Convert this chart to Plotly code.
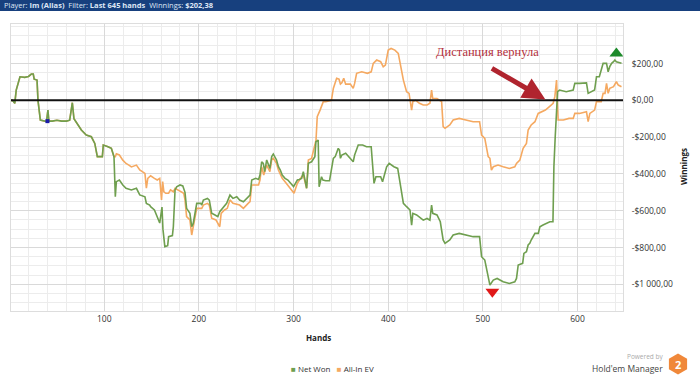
import plotly.graph_objects as go

# ---------------- data ----------------
shared_hands = [1, 3, 5.5, 7, 11, 16, 20, 23, 25, 26, 29, 30, 32.5, 37, 39, 40.5, 41.5, 45, 50, 55, 60,
                63.5, 66.3, 68, 70, 75.8, 81, 86.4, 90, 92.7, 98, 99, 104, 107.5, 110.3]
shared_values = [0, 0, -16, 56, 128, 125, 130, 143, 143, 115, 110, 0, -107, -115, -115, -53, -113, -113, -108, -113, -113,
                 -108, -13, -100, -115, -161, -189, -198, -234, -306, -306, -243, -252, -261, -306]

net_hands = [111.7, 112.8, 116, 119.6, 123, 128.7, 134, 137.5, 143, 144.5, 148, 149, 153, 158.6, 161, 162, 164, 167, 168,
             172, 173, 174.8, 176.5, 180, 183, 185.3, 187, 190.5, 192.4, 194, 196, 197.7, 202, 203, 204.7, 209, 211,
             213.5, 217, 220, 222, 225, 227, 229.3, 232.8, 236, 240, 243, 247, 250, 252, 254, 255.8, 260, 263, 264.5,
             266.3, 268, 269.5, 271.6, 275, 276.9, 278.6, 280, 282, 284, 286, 288, 291, 294, 298, 300, 302, 304, 306,
             308.5, 310.3, 312, 313.8, 315.6, 319, 322.5, 323.6, 326, 327, 329.5, 331, 334, 338, 342, 344, 347.2,
             348.5, 349.5, 351, 355, 358.5, 363, 364.5, 368.3, 373, 377, 382, 384.2, 385, 387, 392, 394, 398.3, 401,
             406, 410, 412.4, 416, 419.4, 423, 424.7, 426, 430, 437, 441, 444, 445.8, 447, 451.5, 455, 458, 460, 465,
             468.6, 475, 482, 489.7, 496.5, 498.6, 502, 503.9, 505.6, 507.4, 511, 515, 521.4, 528, 533.7, 535.5,
             537.3, 542, 543.3, 546, 547.8, 549.5, 551, 555, 558.5, 560.2, 563.5, 567, 570.7, 574, 575, 576.4, 577.8,
             578.9, 581, 588, 595.4, 597.1, 602, 609.4, 611.2, 614.7, 618, 620, 623, 625, 627, 630.6, 632.3, 634, 636,
             638, 639.4, 641, 646.4]
net_values = [-524, -442, -433, -460, -478, -487, -478, -514, -524, -560, -569, -578, -596, -667, -580, -700, -795, -790,
              -741, -735, -687, -487, -470, -460, -465, -500, -587, -614, -687, -669, -596, -560, -560, -569, -542, -533,
              -542, -614, -623, -632, -605, -587, -569, -560, -515, -533, -524, -542, -551, -533, -524, -515, -433, -424,
              -430, -406, -334, -343, -388, -324, -370, -306, -292, -306, -324, -361, -379, -406, -424, -433, -460, -469,
              -451, -433, -430, -424, -388, -433, -478, -342, -334, -306, -225, -216, -470, -415, -433, -437, -437, -315,
              -306, -261, -270, -315, -297, -288, -306, -334, -297, -243, -243, -252, -252, -397, -451, -415, -415, -442,
              -361, -343, -361, -370, -451, -560, -578, -596, -678, -614, -623, -651, -642, -651, -569, -614, -623, -660,
              -759, -777, -759, -732, -723, -732, -741, -741, -850, -868, -922, -959, -1004, -977, -968, -986, -995, -986,
              -968, -895, -886, -832, -823, -786, -777, -759, -723, -723, -687, -678, -669, -660, -660, -361, -198, -71,
              47, 56, 47, 56, 92, 92, 95, 38, 47, 56, 128, 128, 165, 201, 201, 155, 183, 201, 210, 219, 210, 202]

ev_hands = [111.7, 112.8, 116, 119.6, 123, 126, 128.7, 134, 137.5, 143, 144.5, 146, 149, 153, 156, 158.6, 159.5, 160.5,
            161.7, 163, 165, 168, 170, 173, 174.8, 178, 181.8, 184, 185.3, 187, 190.5, 192.4, 194, 196, 197.7, 203,
            204.7, 209, 211, 213.5, 218, 222, 223.5, 227, 230, 232.8, 236, 243, 247, 252, 254, 255.8, 263, 264.5,
            266.3, 268.5, 271.6, 275, 276.9, 278.6, 282, 284, 288, 291, 298, 300.5, 304, 306, 308.5, 310.3, 313.8,
            315.6, 319, 323.7, 325, 328, 331.4, 334, 337, 340, 342, 345.5, 348, 349.5, 351, 353, 355, 360, 363, 364.5,
            366.6, 372, 378, 382, 384.2, 387.8, 392, 394.7, 397, 400, 403, 407, 410.6, 412.4, 416, 419.4, 422, 424.7,
            426, 429, 433, 437, 441, 444, 445.8, 447, 451.5, 456.4, 458, 460, 465, 468.6, 475, 482, 489.7, 496.5,
            498.6, 502, 505.6, 507.4, 509, 511, 516, 521.4, 528, 533.7, 535.5, 539, 542.5, 546, 547.8, 551, 555,
            558.4, 562, 566, 570, 574.2, 576, 577.8, 578.9, 579.5, 585, 591, 595.4, 597.1, 602, 609.4, 611.2, 613,
            618, 620, 625, 627, 629, 630.6, 632.3, 634, 638, 641, 643, 646.4]
ev_values = [-306, -290, -297, -325, -343, -352, -362, -352, -378, -397, -477, -424, -410, -424, -433, -424, -470, -541,
             -442, -497, -505, -505, -487, -497, -478, -487, -497, -505, -541, -632, -650, -732, -687, -632, -587, -587,
             -569, -560, -569, -641, -650, -687, -614, -596, -587, -541, -560, -569, -587, -560, -551, -460, -460, -433,
             -361, -406, -352, -388, -324, -315, -343, -379, -424, -442, -487, -505, -451, -433, -415, -406, -478, -324,
             -316, -216, -89, -53, -7, -7, -3, 0, 65, 120, 115, 88, 95, 120, 88, 88, 65, 92, 147, 155, 147, 155, 201,
             219, 210, 183, 192, 273, 282, 273, 255, 201, 110, 47, 38, -53, -7, 0, -16, -25, -25, -16, 56, 10, 10, -7,
             -143, -152, -134, -107, -98, -107, -116, -116, -189, -207, -306, -315, -379, -361, -352, -361, -370, -361,
             -343, -325, -261, -234, -161, -134, -116, -71, -62, -53, -35, -16, 20, 110, -35, -107, -107, -98, -98, -71,
             -71, -62, -116, -71, -53, -7, -7, 38, 38, 92, 38, 65, 74, 101, 83, 74]

max_point = (641, 255)
min_point = (510, -1040)
start_point = (40, -113)

y_tickvals = [200, 0, -200, -400, -600, -800, -1000]
y_ticktext = ["$200,00", "$0,00", "-$200,00", "-$400,00", "-$600,00", "-$800,00", "-$1 000,00"]
x_tickvals = [100, 200, 300, 400, 500, 600]

GREEN = "#6f9f4f"
ORANGE = "#f5a961"

# ---------------- figure ----------------
W, H = 700, 378
L, R, T, B = 11, 623, 24, 311


def px(x):
    return (x - L) / (R - L)


def py(y):
    return (B - y) / (B - T)


fig = go.Figure()
fig.add_trace(go.Scatter(x=shared_hands + ev_hands, y=shared_values + ev_values, mode="lines",
                         line=dict(color=ORANGE, width=1.6), name="All-In EV", showlegend=False))
fig.add_trace(go.Scatter(x=shared_hands + net_hands, y=shared_values + net_values, mode="lines",
                         line=dict(color=GREEN, width=1.6), name="Net Won", showlegend=False))
fig.add_trace(go.Scatter(x=[max_point[0]], y=[max_point[1]], mode="markers",
                         marker=dict(symbol="triangle-up", size=12, color="#1c8a2a"), showlegend=False))
fig.add_trace(go.Scatter(x=[min_point[0]], y=[min_point[1]], mode="markers",
                         marker=dict(symbol="triangle-down", size=12, color="#e01818"), showlegend=False))
fig.add_trace(go.Scatter(x=[start_point[0]], y=[start_point[1]], mode="markers",
                         marker=dict(symbol="square", size=4, color="#1a1aa8"), showlegend=False))

# zero line
fig.add_hline(y=0, line=dict(color="#111111", width=2))

# header bar
fig.add_shape(type="rect", xref="paper", yref="paper", x0=px(0), x1=px(W), y0=py(0), y1=py(11),
              fillcolor="#17407e", line=dict(width=0), layer="above")

# HM2 hexagon logo
cx, cy, r = 678, 364, 10.5
hexpts = [(cx, cy - r), (cx - 0.866 * r, cy - r / 2), (cx - 0.866 * r, cy + r / 2), (cx, cy + r),
          (cx + 0.866 * r, cy + r / 2), (cx + 0.866 * r, cy - r / 2)]
path = "M " + " L ".join(f"{px(a):.5f},{py(b):.5f}" for a, b in hexpts) + " Z"
fig.add_shape(type="path", xref="paper", yref="paper", path=path, fillcolor="#f0883a", line=dict(width=0))

ann = [
    dict(x=px(3), y=py(5.5), xanchor="left",
         text="Player: <b>Im (Alias)</b>  Filter: <b>Last 645 hands</b>  Winnings: <b>$202,38</b>",
         font=dict(size=7.5, color="#dfe7f5")),
    dict(x=px(318), y=py(337), text="<b>Hands</b>", font=dict(size=8, color="#222")),
    dict(x=px(683), y=py(167), text="<b>Winnings</b>", textangle=-90, font=dict(size=8, color="#222")),
    dict(x=px(290), y=py(368), xanchor="left",
         text=f'<span style="color:{GREEN}">■</span> Net Won   <span style="color:{ORANGE}">■</span> All-In EV',
         font=dict(size=8, color="#333")),
    dict(x=px(664), y=py(356), xanchor="right", text="Powered by", font=dict(size=6.5, color="#aaaaaa")),
    dict(x=px(664), y=py(368), xanchor="right", text="Hold'em Manager", font=dict(size=8.5, color="#444")),
    dict(x=px(678), y=py(364), text="<b>2</b>", font=dict(size=11, color="white")),
    dict(x=px(487), y=py(52), text="Дистанция вернула",
         font=dict(family="Liberation Serif, DejaVu Serif, serif", size=12.5, color="#b3303c")),
]
for a in ann:
    a.setdefault("xanchor", "center")
    a.update(xref="paper", yref="paper", yanchor="middle", showarrow=False, borderpad=0)
    fig.add_annotation(**a)

# arrow
fig.add_annotation(x=566, y=5, xref="x", yref="y", ax=-55, ay=-32, text="", showarrow=True,
                   arrowhead=2, arrowsize=0.9, arrowwidth=5, arrowcolor="#b0242e")

fig.update_layout(
    width=W, height=H,
    margin=dict(l=L, r=W - R, t=T, b=H - B),
    paper_bgcolor="white", plot_bgcolor="white",
    font=dict(family="Open Sans, sans-serif", size=8.5, color="#333"),
    xaxis=dict(range=[1.5, 648], tickvals=x_tickvals, showgrid=True, gridcolor="#d9d9d9", gridwidth=1,
               minor=dict(dtick=20, tick0=0, showgrid=True, gridcolor="#ececec"),
               zeroline=False, showline=True, linecolor="#dddddd", mirror=True, ticks="",
               tickfont=dict(size=8.5, color="#333")),
    yaxis=dict(range=[-1145, 415], side="right", tickvals=y_tickvals, ticktext=y_ticktext, showgrid=True,
               gridcolor="#d9d9d9", minor=dict(dtick=50, tick0=0, showgrid=True, gridcolor="#ececec"),
               zeroline=False, showline=True, linecolor="#dddddd", mirror=True, ticks="", ticklabelstandoff=6,
               tickfont=dict(size=8.5, color="#333")),
    showlegend=False,
)

fig.write_html("out.html")
